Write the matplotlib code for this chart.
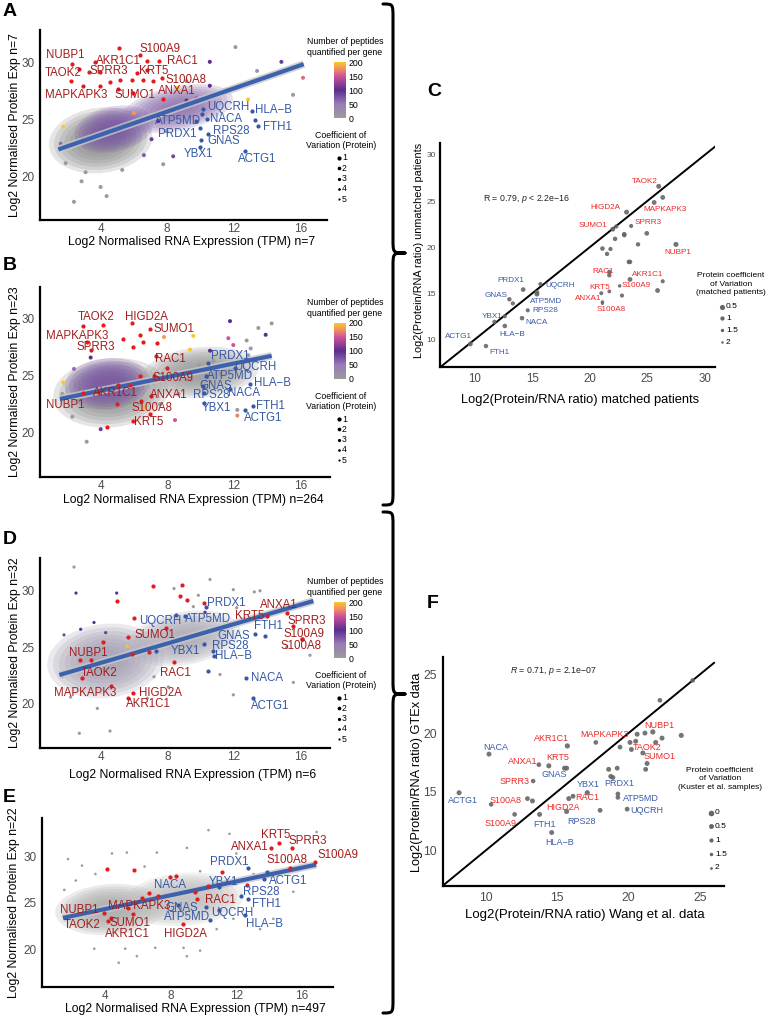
import numpy as np
import matplotlib.pyplot as plt
from matplotlib.colors import LinearSegmentedColormap, Normalize
from matplotlib.colorbar import ColorbarBase
from matplotlib.patches import Ellipse, PathPatch
from matplotlib.path import Path

plt.rcParams['font.family'] = ['Liberation Sans', 'DejaVu Sans']
plt.rcParams['mathtext.fontset'] = 'custom'
plt.rcParams['mathtext.it'] = 'Liberation Sans:italic'
plt.rcParams['mathtext.rm'] = 'Liberation Sans'

# ---------------- data ----------------
# scatter panels: (gene, point x, point y, label x, label y)
a_red = [("NUBP1", 2.26, 29.9, 1.86, 30.7), ("TAOK2", 2.2, 28.4, 1.76, 29.1),
         ("MAPKAPK3", 3.96, 27.96, 2.52, 27.2), ("AKR1C1", 3.66, 30.1, 5.06, 30.2),
         ("SPRR3", 3.32, 29.2, 4.46, 29.3), ("KRT5", 6.16, 29.1, 7.16, 29.3),
         ("SUMO1", 5.96, 27.4, 6.06, 27.2), ("S100A9", 6.36, 30.7, 7.56, 31.2),
         ("RAC1", 7.5, 30.2, 8.92, 30.2), ("S100A8", 7.66, 28.7, 9.16, 28.5),
         ("ANXA1", 7.75, 26.8, 8.56, 27.5)]
a_blue = [("UQCRH", 10.16, 26.0, 11.66, 26.1), ("HLA\u2212B", 13.1, 25.76, 14.4, 25.9),
          ("ATP5MD", 9.76, 24.9, 8.66, 24.9), ("NACA", 10.4, 25.1, 11.52, 25.1),
          ("FTH1", 13.46, 24.5, 14.62, 24.4), ("PRDX1", 9.98, 24.3, 8.6, 23.8),
          ("RPS28", 10.46, 23.75, 11.86, 24.0), ("GNAS", 10.04, 23.2, 11.4, 23.1),
          ("YBX1", 9.96, 22.6, 9.86, 22.0), ("ACTG1", 12.7, 22.3, 13.4, 21.6)]
a_red_extra = [(5.1, 31.3), (2.72, 29.5), (3.96, 29.2), (6.76, 29.4), (2.96, 28.0), (4.56, 28.3),
               (5.16, 28.5), (5.86, 28.5), (6.56, 28.5), (7.16, 28.4), (5.06, 27.7), (6.76, 30.2)]
a_blue_extra = [(10.1, 25.5), (13.3, 25.0)]
# sparse cloud points: (x, y, peptides)
a_dots = [(12.1, 31.4, 0), (14.86, 30.1, 90), (16.16, 28.7, 160), (13.4, 29.3, 0), (10.56, 30.1, 100),
          (7.76, 21.1, 0), (2.4, 17.8, 0), (4.36, 18.3, 0), (4.0, 19.1, 0), (2.86, 19.6, 0),
          (11.56, 27.6, 90), (12.86, 26.8, 200), (9.16, 28.4, 0), (8.36, 21.8, 80), (1.76, 24.4, 200),
          (11.76, 27.7, 170), (9.76, 26.9, 140), (10.56, 28.0, 100), (9.16, 26.7, 100), (7.46, 24.9, 100),
          (7.06, 23.3, 90), (7.96, 24.0, 0), (15.56, 27.2, 0), (8.6, 27.8, 200), (6.0, 25.6, 180),
          (1.6, 22.9, 60), (1.9, 21.2, 0), (3.1, 20.4, 0), (6.6, 21.9, 70), (5.3, 20.6, 0)]
# cloud blobs: (x, y, width, height, angle, colour)
a_cloud = [(4.0, 23.2, 6.4, 5.6, 30, '#8a8a8a'), (4.8, 24.2, 5.0, 3.8, 30, '#7a56a6'),
           (8.6, 26.0, 7.0, 3.8, 20, '#8c70ad')]
a_fit = ([1.46, 16.2], [22.4, 29.9])

b_red = [("TAOK2", 2.96, 29.4, 3.7, 30.15), ("HIGD2A", 5.86, 29.6, 6.72, 30.2),
         ("MAPKAPK3", 3.2, 28.0, 2.62, 28.5), ("SUMO1", 6.98, 29.1, 8.4, 29.1),
         ("SPRR3", 3.4, 27.3, 3.72, 27.5), ("RAC1", 7.32, 26.7, 8.2, 26.5),
         ("S100A9", 7.2, 25.0, 8.32, 24.8), ("AKR1C1", 5.76, 24.15, 4.86, 23.5),
         ("ANXA1", 7.0, 23.2, 8.06, 23.35), ("NUBP1", 2.92, 23.5, 1.86, 22.4),
         ("S100A8", 6.96, 21.6, 7.06, 22.2), ("KRT5", 5.96, 21.0, 6.86, 20.9)]
b_blue = [("PRDX1", 10.46, 26.1, 11.76, 26.7), ("UQCRH", 12.06, 25.7, 13.3, 25.8),
          ("ATP5MD", 10.32, 25.0, 11.76, 24.95), ("HLA\u2212B", 12.96, 24.3, 14.3, 24.4),
          ("GNAS", 10.16, 24.1, 10.92, 24.1), ("RPS28", 10.2, 23.5, 10.66, 23.3),
          ("NACA", 11.76, 23.8, 12.6, 23.5), ("YBX1", 10.2, 22.6, 10.92, 22.2),
          ("FTH1", 13.16, 22.3, 14.16, 22.3), ("ACTG1", 12.66, 22.0, 13.76, 21.3)]
b_red_extra = [(4.36, 20.5), (4.16, 29.5), (5.36, 28.2), (6.36, 28.6), (6.56, 28.0), (7.36, 27.9),
               (5.96, 27.5), (7.96, 25.7), (6.36, 25.0), (5.06, 24.2), (3.86, 23.6), (4.96, 22.5),
               (6.42, 22.8)]
b_blue_extra = []
b_dots = [(13.46, 29.2, 0), (14.26, 29.6, 0), (11.76, 29.8, 100), (13.9, 28.6, 100), (12.76, 28.1, 0),
          (11.66, 28.3, 150), (11.96, 27.7, 150), (9.56, 28.5, 200), (9.36, 27.3, 200), (3.16, 19.2, 0),
          (8.46, 21.1, 150), (1.76, 24.4, 200), (10.76, 26.3, 0), (12.86, 26.8, 0), (12.2, 22.0, 0),
          (12.2, 21.5, 170), (8.66, 23.4, 0), (7.56, 22.5, 0), (9.44, 24.6, 0), (10.56, 27.2, 100),
          (11.2, 25.2, 0), (13.0, 27.4, 0), (9.9, 25.9, 0), (7.8, 28.4, 180), (6.6, 22.2, 190),
          (1.7, 23.4, 0), (2.3, 21.4, 0), (4.0, 20.3, 90), (3.4, 26.6, 100), (2.4, 25.6, 60)]
b_cloud = [(4.6, 23.5, 7.0, 6.0, 20, '#8a8a8a'), (4.4, 24.3, 5.2, 4.4, 20, '#7a56a6'),
           (10.0, 25.3, 7.0, 4.4, 10, '#969696')]
b_fit = ([1.56, 14.26], [22.96, 26.75])

d_red = [("NUBP1", 2.76, 23.9, 3.26, 24.5), ("TAOK2", 2.88, 22.3, 3.92, 22.7),
         ("MAPKAPK3", 4.62, 21.6, 3.06, 20.95), ("HIGD2A", 5.96, 21.0, 7.6, 21.0),
         ("AKR1C1", 5.62, 20.5, 6.86, 19.97), ("RAC1", 8.4, 23.7, 8.46, 22.75),
         ("SUMO1", 5.66, 25.9, 7.26, 26.1), ("KRT5", 13.96, 27.8, 12.96, 27.8),
         ("ANXA1", 15.16, 28.0, 14.66, 28.7), ("SPRR3", 15.56, 26.9, 16.36, 27.3),
         ("S100A9", 16.06, 25.7, 16.2, 26.2), ("S100A8", 16.06, 25.7, 16.0, 25.1)]
d_blue = [("PRDX1", 10.3, 28.6, 11.52, 28.9), ("UQCRH", 8.52, 27.9, 7.56, 27.3),
          ("ATP5MD", 9.06, 27.8, 10.46, 27.5), ("FTH1", 13.26, 26.2, 14.06, 26.9),
          ("GNAS", 10.2, 25.3, 11.96, 26.0), ("RPS28", 10.76, 24.7, 11.76, 25.1),
          ("YBX1", 7.32, 24.7, 9.06, 24.7), ("HLA\u2212B", 10.8, 24.2, 11.96, 24.2),
          ("NACA", 12.7, 22.3, 14.0, 22.3), ("ACTG1", 13.12, 20.5, 14.16, 19.8)]
d_red_extra = [(3.4, 23.9), (7.92, 26.7), (10.2, 28.9), (4.96, 29.1), (7.16, 30.4), (8.76, 29.5),
               (8.86, 30.5), (9.16, 29.2), (4.12, 25.5), (6.0, 27.6), (5.9, 24.4), (6.9, 24.6)]
d_blue_extra = [(13.86, 26.0), (10.46, 22.9)]
d_dots = [(8.4, 30.2, 0), (10.56, 31.0, 0), (9.86, 29.6, 0), (11.96, 30.1, 0), (13.22, 29.9, 0),
          (13.56, 30.0, 0), (2.52, 29.8, 100), (2.4, 32.1, 0), (4.96, 29.8, 100), (9.56, 28.6, 0),
          (10.26, 28.1, 100), (12.16, 28.5, 0), (2.72, 17.4, 0), (4.56, 17.6, 0), (15.16, 25.0, 0),
          (16.56, 24.3, 0), (11.96, 20.8, 0), (11.16, 22.6, 0), (8.06, 21.5, 0), (15.56, 21.9, 0),
          (2.8, 26.6, 100), (3.6, 27.2, 100), (4.3, 26.3, 90), (5.6, 25.1, 200), (1.8, 26.1, 80),
          (1.7, 22.4, 0), (2.2, 20.6, 0), (3.8, 19.6, 0), (7.2, 22.4, 0), (6.8, 20.5, 0)]
d_cloud = [(4.3, 23.8, 7.2, 6.4, 30, '#a29cb0'), (9.0, 25.8, 7.0, 4.6, 20, '#aca8b6')]
d_fit = ([1.52, 16.76], [22.56, 29.1])

e_red = [("KRT5", 14.6, 31.4, 14.43, 32.3), ("SPRR3", 15.38, 30.9, 16.34, 31.6),
         ("ANXA1", 14.1, 30.9, 12.8, 31.0), ("S100A9", 16.8, 29.4, 18.2, 30.1),
         ("S100A8", 15.28, 28.7, 15.1, 29.6), ("RAC1", 9.59, 25.4, 11.05, 25.3),
         ("MAPKAPK3", 5.38, 24.5, 6.1, 24.7), ("NUBP1", 3.94, 23.9, 2.44, 24.2),
         ("SUMO1", 5.69, 23.8, 5.53, 22.9), ("TAOK2", 4.14, 23.1, 2.58, 22.6),
         ("AKR1C1", 4.37, 23.4, 5.36, 21.7), ("HIGD2A", 8.74, 22.7, 8.88, 21.7)]
e_blue = [("PRDX1", 12.74, 28.7, 11.58, 29.4), ("ACTG1", 13.86, 28.3, 15.18, 27.3),
          ("NACA", 8.47, 24.8, 7.93, 26.9), ("YBX1", 10.95, 26.7, 11.22, 27.2),
          ("RPS28", 12.27, 25.7, 13.55, 26.2), ("FTH1", 12.74, 25.4, 13.86, 24.9),
          ("GNAS", 10.14, 24.6, 8.68, 24.5), ("UQCRH", 10.92, 24.2, 11.73, 23.9),
          ("ATP5MD", 10.4, 23.2, 8.98, 23.5), ("HLA\u2212B", 12.54, 23.7, 13.72, 22.7)]
e_red_extra = [(11.1, 28.3), (12.64, 26.95), (10.3, 26.8), (9.49, 26.2), (7.96, 27.8), (8.33, 27.9),
               (6.64, 26.1), (7.2, 25.7), (6.24, 25.5), (4.1, 28.6), (5.73, 28.5)]
e_blue_extra = [(13.66, 27.6)]
e_dots = [(10.3, 32.8, 0), (11.58, 32.4, 0), (16.9, 32.6, 0), (8.98, 30.9, 0), (7.15, 30.4, 0),
          (1.73, 29.7, 0), (2.58, 29.0, 0), (4.41, 30.3, 0), (5.32, 30.4, 0), (9.79, 28.4, 0),
          (13.05, 28.1, 0), (14.77, 28.3, 0), (15.48, 26.2, 0), (14.26, 23.3, 0), (13.45, 22.2, 0),
          (9.79, 19.9, 0), (8.78, 20.2, 0), (7.05, 20.2, 0), (5.22, 20.1, 0), (3.33, 20.1, 0),
          (4.82, 18.6, 0), (5.93, 19.3, 0), (8.98, 19.3, 0), (11.82, 23.3, 0), (10.8, 22.2, 0),
          (1.5, 26.4, 0), (2.2, 27.4, 0), (3.4, 28.1, 0), (6.4, 28.9, 0), (12.0, 30.3, 0)]
e_cloud = [(4.3, 24.3, 6.8, 5.4, 15, '#a8a8a8'), (8.8, 25.4, 7.4, 5.6, 15, '#bdbdbd')]
e_fit = ([1.42, 16.87], [23.4, 29.1])

# panel C: (gene, matched x, unmatched y, label x, label y, CV)
c_genes = [("TAOK2", 26.0, 26.6, 24.8, 27.07, 0.6), ("MAPKAPK3", 25.6, 24.85, 26.52, 24.06, 0.7),
           ("HIGD2A", 23.2, 23.8, 21.39, 24.35, 0.6), ("SUMO1", 22.0, 21.95, 20.29, 22.35, 0.7),
           ("SPRR3", 23.6, 22.3, 25.07, 22.71, 1.2), ("NUBP1", 27.5, 20.3, 27.7, 19.4, 0.5),
           ("RAC1", 21.7, 16.95, 21.16, 17.38, 1.0), ("AKR1C1", 23.5, 16.5, 25.07, 17.05, 0.7),
           ("KRT5", 21.7, 15.2, 20.87, 15.67, 1.4), ("S100A9", 22.6, 15.8, 24.06, 15.82, 1.6),
           ("ANXA1", 21.0, 15.0, 19.86, 14.44, 1.3), ("S100A8", 21.1, 14.05, 21.88, 13.28, 1.6),
           ("PRDX1", 14.2, 15.4, 13.13, 16.33, 0.8), ("UQCRH", 15.7, 16.0, 17.39, 15.82, 1.2),
           ("GNAS", 13.0, 14.35, 11.88, 14.73, 1.0), ("ATP5MD", 15.4, 14.9, 16.23, 14.15, 0.7),
           ("YBX1", 12.6, 12.5, 11.5, 12.45, 1.2), ("RPS28", 14.6, 13.15, 16.14, 13.1, 1.2),
           ("NACA", 14.1, 12.3, 15.36, 11.79, 0.9), ("HLA\u2212B", 12.6, 11.45, 13.27, 10.56, 0.9),
           ("ACTG1", 9.6, 9.5, 8.55, 10.27, 0.7), ("FTH1", 10.96, 9.27, 12.17, 8.53, 1.0)]
c_red = ["TAOK2", "MAPKAPK3", "HIGD2A", "SUMO1", "SPRR3", "NUBP1", "RAC1", "AKR1C1",
         "KRT5", "S100A9", "ANXA1", "S100A8"]
c_other = [(26.35, 25.4, 0.7), (22.3, 22.24, 1.1), (23.0, 21.4, 0.8), (23.0, 21.3, 1.0),
           (24.96, 21.5, 0.8), (22.2, 20.9, 0.9), (24.2, 20.3, 1.0), (21.1, 19.85, 0.9),
           (21.8, 19.8, 1.1), (21.5, 19.27, 1.0), (23.4, 18.4, 0.9), (23.5, 18.4, 0.9),
           (21.7, 17.3, 0.9), (26.35, 16.3, 1.2), (25.9, 15.3, 0.7), (22.8, 14.75, 1.2),
           (15.4, 15.1, 0.7), (13.3, 13.9, 1.1), (11.7, 11.9, 1.1), (21.1, 13.9, 1.8)]
c_stat = "R = 0.79, $\\it{p}$ < 2.2e\u221216"

# panel F: (gene, Wang x, GTEx y, label x, label y, CV)
f_genes = [("NUBP1", 21.7, 20.1, 22.14, 20.65, 0.4), ("TAOK2", 21.0, 18.3, 21.33, 18.74, 0.6),
           ("SUMO1", 21.3, 17.4, 22.2, 18.03, 0.6), ("MAPKAPK3", 17.7, 19.2, 18.34, 19.88, 0.8),
           ("AKR1C1", 15.7, 18.9, 14.56, 19.51, 0.4), ("NACA", 10.2, 18.2, 10.68, 18.8, 0.6),
           ("ANXA1", 13.7, 17.3, 12.55, 17.58, 0.8), ("KRT5", 14.4, 17.2, 15.02, 17.95, 0.5),
           ("GNAS", 15.5, 17.0, 14.79, 16.44, 0.6), ("SPRR3", 13.3, 15.9, 11.99, 15.9, 0.9),
           ("YBX1", 17.1, 14.9, 17.15, 15.62, 0.4), ("PRDX1", 18.9, 16.2, 19.32, 15.67, 0.7),
           ("RAC1", 16.1, 14.6, 17.13, 14.48, 0.7), ("ATP5MD", 19.25, 14.5, 20.86, 14.45, 0.8),
           ("ACTG1", 8.1, 14.9, 8.34, 14.2, 0.5), ("S100A8", 10.35, 13.9, 11.33, 14.2, 0.9),
           ("HIGD2A", 15.8, 14.4, 15.37, 13.68, 0.6), ("UQCRH", 19.9, 13.5, 21.3, 13.34, 0.7),
           ("S100A9", 12.0, 13.05, 10.98, 12.26, 0.8), ("FTH1", 13.75, 13.05, 14.09, 12.2, 0.6),
           ("RPS28", 15.65, 13.3, 16.71, 12.46, 0.5), ("HLA\u2212B", 14.6, 11.5, 15.14, 10.67, 0.6)]
f_red = ["NUBP1", "TAOK2", "SUMO1", "MAPKAPK3", "AKR1C1", "ANXA1", "KRT5", "SPRR3",
         "RAC1", "S100A8", "HIGD2A", "S100A9"]
f_other = [(24.5, 24.5, 0.8), (22.2, 22.8, 0.8), (23.7, 19.8, 0.5), (22.35, 19.57, 0.6),
           (21.15, 20.0, 0.6), (20.6, 19.9, 0.6), (20.5, 19.3, 0.6), (20.1, 19.2, 0.6),
           (20.2, 18.6, 0.6), (19.4, 18.8, 0.7), (21.9, 19.2, 0.6), (21.2, 16.9, 0.7),
           (18.6, 16.9, 0.6), (19.2, 17.0, 0.7), (18.75, 16.3, 0.6), (12.9, 14.4, 0.7),
           (13.25, 14.2, 0.6), (18.0, 13.4, 0.7), (19.25, 14.8, 0.8), (15.65, 17.0, 0.6)]
f_stat = "$\\it{R}$ = 0.71, $\\it{p}$ = 2.1e\u221207"

cv_levels_ab = [1, 2, 3, 4, 5]
cv_levels_c = [0.5, 1, 1.5, 2]
cv_levels_f = [0, 0.5, 1, 1.5, 2]
pep_ticks = [0, 50, 100, 150, 200]

# ---------------- styling ----------------
W, H = 769, 1022
fig = plt.figure(figsize=(W / 100, H / 100), dpi=100)

RED_LAB = '#a31d1d'
RED_PT = '#e41a1c'
BLUE = '#3559a6'
C_RED = '#ec2a2a'
C_BLUE = '#3b5ca8'
FIT = '#3c62ad'
TICK = '#4d4d4d'
pep_cmap = LinearSegmentedColormap.from_list(
    'pep', [(0, '#9b9b9b'), (0.25, '#9a7bb8'), (0.5, '#5b2d8e'), (0.75, '#cf519c'),
            (0.88, '#f0915f'), (1, '#fbc82a')])
pep_norm = Normalize(0, 200)


def pts(px):
    return px * 72 / 100


def px_axes(l, t, r, b):
    return fig.add_axes([l / W, 1 - b / H, (r - l) / W, (b - t) / H])


def style(ax, xlim, ylim, xt, yt, fs=8.5, fsy=None, pad=4, xpad=4):
    ax.set_xlim(*xlim)
    ax.set_ylim(*ylim)
    ax.set_xticks(xt)
    ax.set_yticks(yt)
    for s in ['top', 'right']:
        ax.spines[s].set_visible(False)
    for s in ['left', 'bottom']:
        ax.spines[s].set_linewidth(1.6)
        ax.spines[s].set_color('black')
    ax.tick_params(axis='x', length=0, pad=xpad, labelsize=fs, labelcolor=TICK)
    ax.tick_params(axis='y', length=0, pad=pad, labelsize=fsy or fs, labelcolor=TICK)
    ax.set_facecolor('none')


# overlay in pixel coordinates for braces, legends and panel letters
ov = fig.add_axes([0, 0, 1, 1])
ov.set_xlim(0, W)
ov.set_ylim(H, 0)
ov.axis('off')


def brace(y0, yt, y1, xh=383, xs=393, xt=405, r=14):
    verts = [(xh, y0), (xs, y0), (xs, y0), (xs, y0 + r),
             (xs, yt - r), (xs, yt), (xs, yt), (xt, yt),
             (xs, yt), (xs, yt), (xs, yt + r),
             (xs, y1 - r), (xs, y1), (xs, y1), (xh, y1)]
    codes = [Path.MOVETO, Path.CURVE4, Path.CURVE4, Path.CURVE4,
             Path.LINETO, Path.CURVE4, Path.CURVE4, Path.CURVE4,
             Path.CURVE4, Path.CURVE4, Path.CURVE4,
             Path.LINETO, Path.CURVE4, Path.CURVE4, Path.CURVE4]
    ov.add_patch(PathPatch(Path(verts, codes), fill=False, lw=2.2, ec='black',
                           capstyle='round', joinstyle='round'))


brace(4, 253, 505)
brace(512, 694, 1013)

for letter, x, y in [("A", 3, 12), ("B", 3, 266), ("D", 3, 540), ("E", 3, 798),
                     ("C", 427, 92), ("F", 427, 603)]:
    ov.text(x, y, letter, fontsize=14, fontweight='bold', va='center', ha='left')

LAYERS = np.linspace(1.0, 0.3, 8)


def scatter_panel(rect, xlim, ylim, red, blue, red_extra, blue_extra, dots, cloud, fit,
                  ylab, xlab, xlab_y, ylab_x=15, dot_px=4.0):
    ax = px_axes(*rect)
    style(ax, xlim, ylim, [4, 8, 12, 16], [20, 25, 30], xpad=2.5)
    for (cx, cy, w, h, ang, col) in cloud:
        for k in LAYERS:
            ax.add_patch(Ellipse((cx, cy), w * k, h * k, angle=ang, fc=col, ec='none',
                                 alpha=0.22, zorder=1))
    dx = [d[0] for d in dots]
    dy = [d[1] for d in dots]
    dc = [d[2] for d in dots]
    ax.scatter(dx, dy, c=dc, cmap=pep_cmap, norm=pep_norm, s=pts(dot_px) ** 2, lw=0, zorder=2)
    ax.plot(fit[0], fit[1], color='#c8c8c8', lw=5.5, solid_capstyle='butt', zorder=3, alpha=0.8)
    ax.plot(fit[0], fit[1], color=FIT, lw=3, solid_capstyle='butt', zorder=4)
    rx = [g[1] for g in red] + [p[0] for p in red_extra]
    ry = [g[2] for g in red] + [p[1] for p in red_extra]
    ax.scatter(rx, ry, color=RED_PT, s=pts(4.2) ** 2, lw=0, zorder=5)
    bx = [g[1] for g in blue] + [p[0] for p in blue_extra]
    by = [g[2] for g in blue] + [p[1] for p in blue_extra]
    ax.scatter(bx, by, color=BLUE, s=pts(4.2) ** 2, lw=0, zorder=5)
    for g in red:
        ax.text(g[3], g[4], g[0], color=RED_LAB, fontsize=8.3, ha='center', va='center',
                zorder=6, clip_on=False)
    for g in blue:
        ax.text(g[3], g[4], g[0], color=BLUE, fontsize=8.3, ha='center', va='center',
                zorder=6, clip_on=False)
    l, t, r, b = rect
    ov.text(ylab_x, (t + b) / 2, ylab, rotation=90, ha='center', va='center', fontsize=8.8)
    ov.text((l + r) / 2 + 8, xlab_y, xlab, ha='center', va='center', fontsize=8.8)
    return ax


def pep_legend(top):
    ov.text(345, top, "Number of peptides\nquantified per gene", ha='center', va='top',
            fontsize=6.3, linespacing=1.25)
    cax = fig.add_axes([334 / W, 1 - (top + 81) / H, 12 / W, 56 / H])
    cb = ColorbarBase(cax, cmap=pep_cmap, norm=pep_norm, ticks=pep_ticks)
    cb.outline.set_visible(False)
    cax.tick_params(length=0, labelsize=6.3, pad=2)
    ov.text(341, top + 94, "Coefficient of\nVariation (Protein)", ha='center', va='top',
            fontsize=6.3, linespacing=1.2)
    for i, cv in enumerate(cv_levels_ab):
        y = top + 121 + i * 10.3
        d = 4.2 - 0.5 * i
        ov.scatter([339], [y], s=pts(d) ** 2, color='black', lw=0)
        ov.text(342, y, str(cv), fontsize=6.3, va='center', ha='left')


scatter_panel((40, 30, 327, 220), (0.36, 17.6), (16.2, 32.9), a_red, a_blue, a_red_extra,
              a_blue_extra, a_dots, a_cloud, a_fit, "Log2 Normalised Protein Exp n=7",
              "Log2 Normalised RNA Expression (TPM) n=7", 242)
pep_legend(37)
scatter_panel((40, 287, 330, 477), (0.36, 17.76), (16.1, 32.8), b_red, b_blue, b_red_extra,
              b_blue_extra, b_dots, b_cloud, b_fit, "Log2 Normalised Protein Exp n=23",
              "Log2 Normalised RNA Expression (TPM) n=264", 500)
pep_legend(298)
scatter_panel((40, 558, 330, 748), (0.36, 17.76), (16.1, 32.9), d_red, d_blue, d_red_extra,
              d_blue_extra, d_dots, d_cloud, d_fit, "Log2 Normalised Protein Exp n=32",
              "Log2 Normalised RNA Expression (TPM) n=6", 775, dot_px=3.2)
pep_legend(577)
scatter_panel((42, 818, 333, 987), (0.14, 17.9), (16.0, 34.1), e_red, e_blue, e_red_extra,
              e_blue_extra, e_dots, e_cloud, e_fit, "Log2 Normalised Protein Exp n=22",
              "Log2 Normalised RNA Expression (TPM) n=497", 1009, ylab_x=14, dot_px=2.6)


def ratio_panel(rect, xlim, ylim, ticks_x, ticks_y, genes, red, other, stat, stat_xy,
                lab_fs, tick_fs_x, tick_fs_y, lim_line, pad):
    ax = px_axes(*rect)
    style(ax, xlim, ylim, ticks_x, ticks_y, fs=tick_fs_x, fsy=tick_fs_y, pad=pad)
    ax.plot(lim_line, lim_line, color='black', lw=1.4, zorder=2)
    gx = [g[1] for g in genes] + [o[0] for o in other]
    gy = [g[2] for g in genes] + [o[1] for o in other]
    gcv = [g[5] for g in genes] + [o[2] for o in other]
    sizes = [pts(5.8 - 1.4 * cv) ** 2 for cv in gcv]
    ax.scatter(gx, gy, s=sizes, color='#666666', alpha=0.9, lw=0, zorder=3)
    for g in genes:
        col = C_RED if g[0] in red else C_BLUE
        ax.text(g[3], g[4], g[0], color=col, fontsize=lab_fs, ha='center', va='center',
                zorder=4, clip_on=False)
    ax.text(stat_xy[0], stat_xy[1], stat, fontsize=6.3, ha='left', va='center', color='#222222')
    return ax


ratio_panel((440, 143, 715, 367), (6.96, 30.9), (7.0, 31.3), [10, 15, 20, 25, 30],
            [10, 15, 20, 25, 30], c_genes, c_red, c_other, c_stat, (10.7, 25.25), 5.9, 8.3, 6.0,
            [7.0, 31.0], 3)
ov.text(419, 250, "Log2(Protein/RNA ratio) unmatched patients", rotation=90, ha='center',
        va='center', fontsize=7.8)
ov.text(580, 400, "Log2(Protein/RNA ratio) matched patients", ha='center', va='center',
        fontsize=9.3)
ov.text(731, 272, "Protein coefficient\nof Variation\n(matched patients)", ha='center',
        va='top', fontsize=6.0, linespacing=1.3)
for i, cv in enumerate(cv_levels_c):
    y = 306.7 + i * 11.8
    ov.scatter([722], [y], s=pts(5.2 - 0.9 * i) ** 2, color='#666666', lw=0)
    ov.text(726, y, str(cv), fontsize=6.0, va='center', ha='left')

ratio_panel((443, 657, 724, 886), (6.97, 26.7), (6.93, 26.5), [10, 15, 20, 25],
            [10, 15, 20, 25], f_genes, f_red, f_other, f_stat, (11.7, 25.3), 6.5, 8.8, 8.8,
            [6.95, 26.0], 4.5)
ov.text(417, 772, "Log2(Protein/RNA ratio) GTEx data", rotation=90, ha='center',
        va='center', fontsize=9.2)
ov.text(585, 915, "Log2(Protein/RNA ratio) Wang et al. data", ha='center', va='center',
        fontsize=9.5)
ov.text(720, 767, "Protein coefficient\nof Variation\n(Kuster et al. samples)", ha='center',
        va='top', fontsize=6.0, linespacing=1.3)
for i, cv in enumerate(cv_levels_f):
    y = 812.7 + i * 13.8
    ov.scatter([711], [y], s=pts(5.6 - 0.7 * i) ** 2, color='#666666', lw=0)
    ov.text(715, y, str(cv), fontsize=6.0, va='center', ha='left')

fig.savefig('out.png', dpi=100)
